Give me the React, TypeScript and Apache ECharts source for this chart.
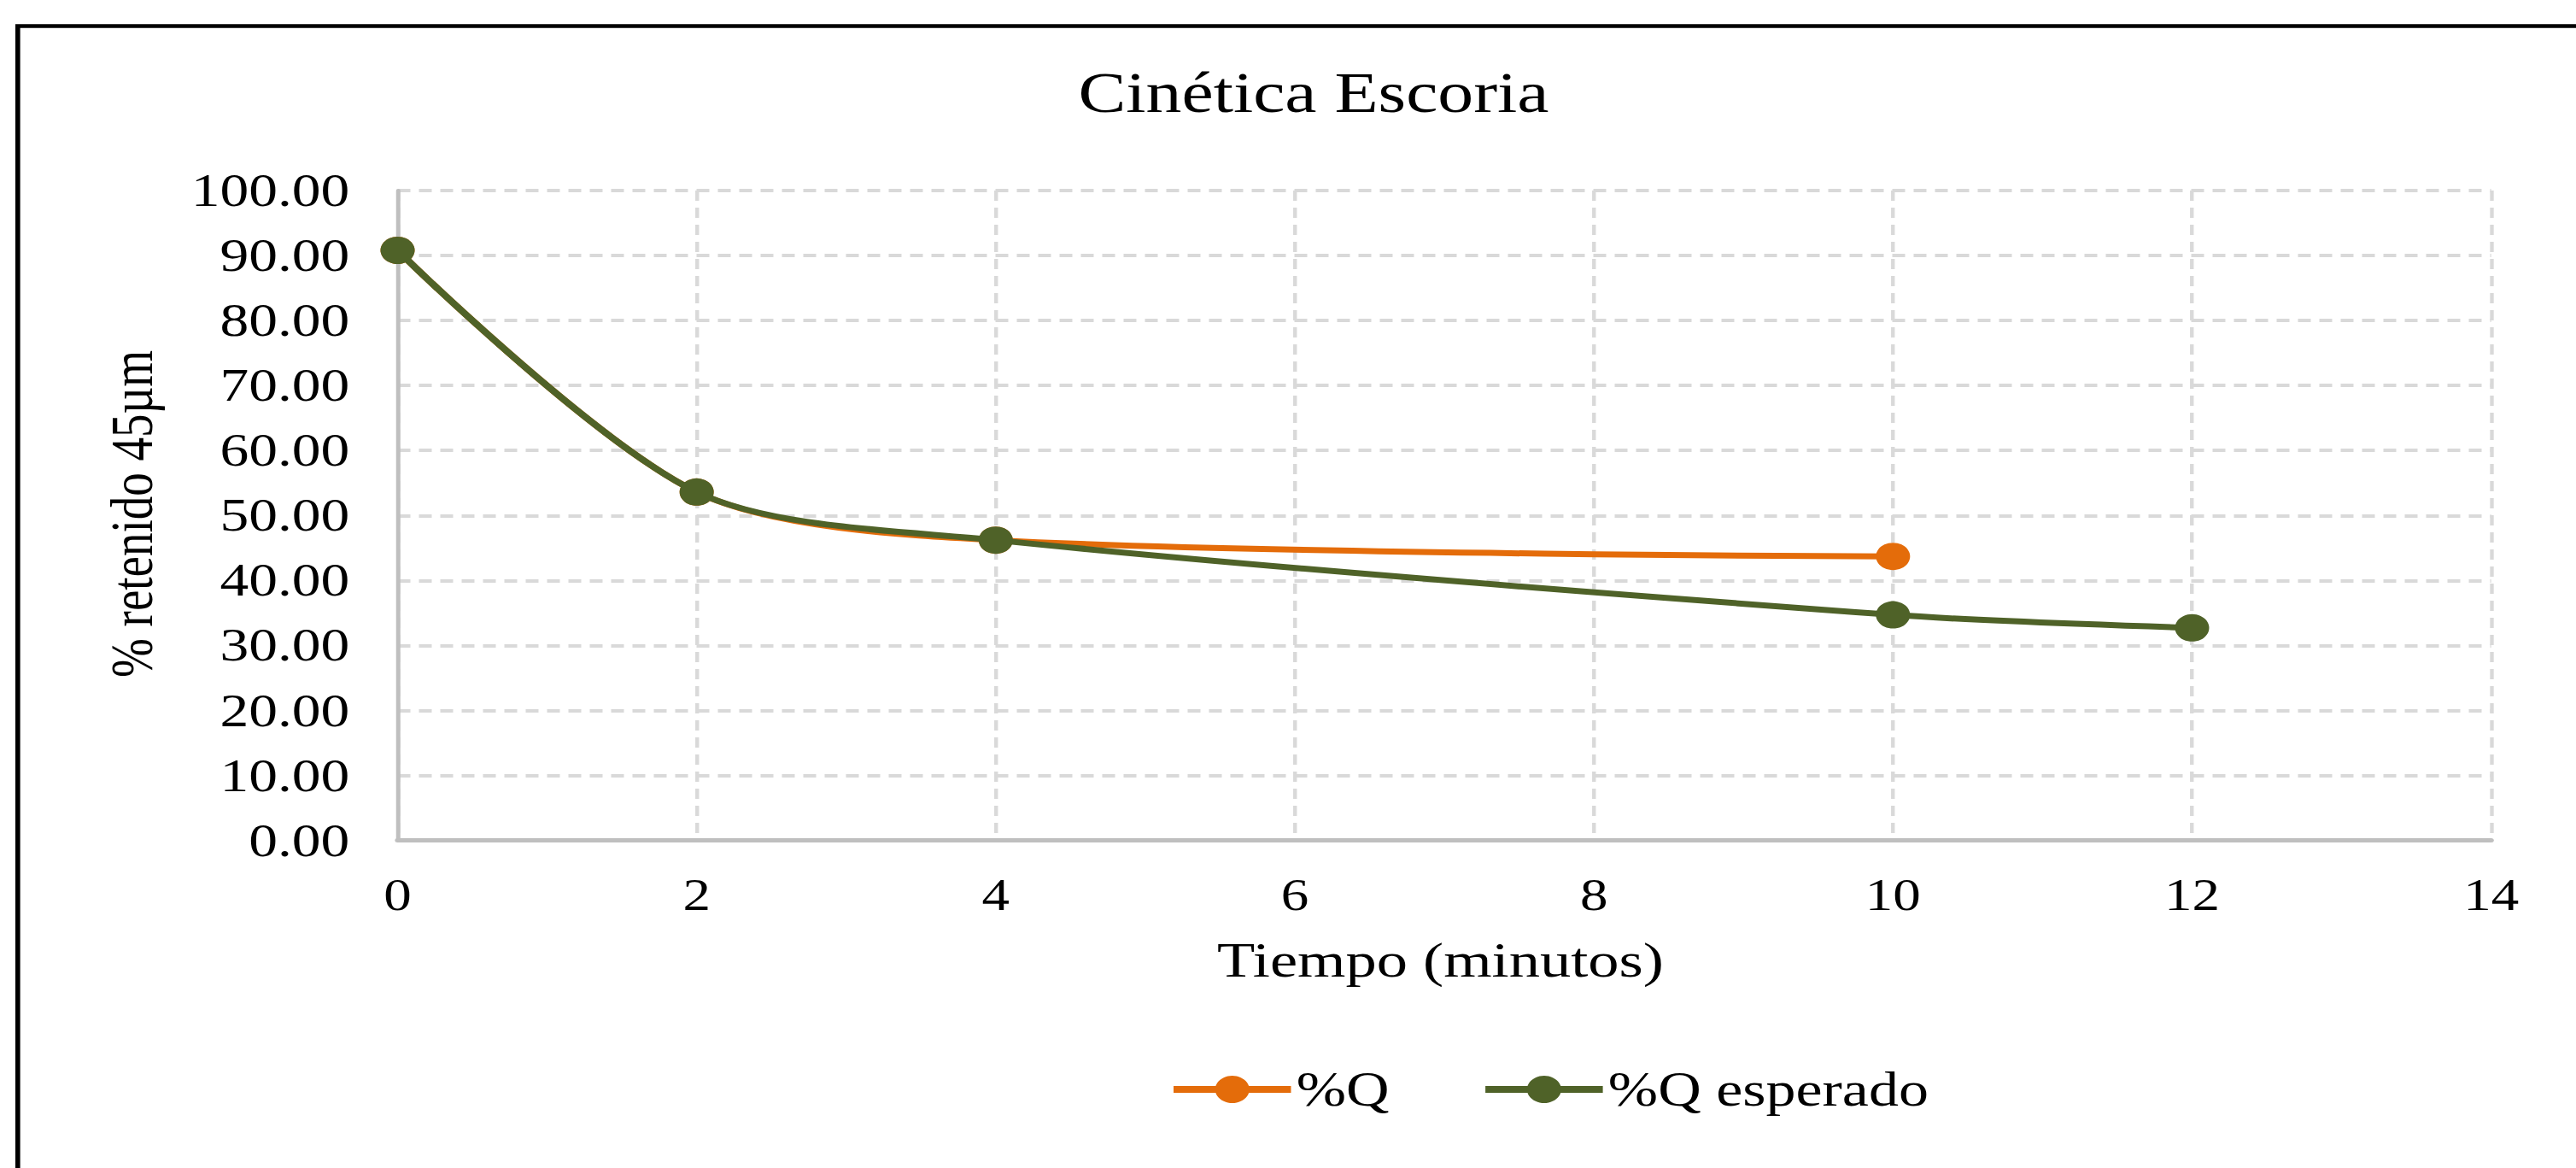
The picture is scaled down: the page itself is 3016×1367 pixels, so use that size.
import React, { useEffect, useRef } from "react";
import * as echarts from "echarts";

// ---- data ----
const xTicks = [0, 2, 4, 6, 8, 10, 12, 14];
const yTicks = [0, 10, 20, 30, 40, 50, 60, 70, 80, 90, 100];
const seriesNames = ["%Q", "%Q esperado"];
const timeQ = [0, 2, 4, 10];
const valuesQ = [90.8, 53.6, 46.2, 43.7];
const timeEsperado = [0, 2, 4, 10, 12];
const valuesEsperado = [90.8, 53.6, 46.2, 34.7, 32.7];
const titleText = "Cinética Escoria";
const xTitle = "Tiempo (minutos)";
const yTitle = "% retenido 45µm";

// ---- layout ----
const SX = 1.25; // the reference picture is stretched horizontally
const W = 3016 / SX;
const H = 1367;
const FONT = '"Liberation Serif", "Times New Roman", serif';
const ORANGE = "#E46C0A";
const GREEN = "#4F6228";

export default function App() {
  const ref = useRef<HTMLDivElement | null>(null);

  useEffect(() => {
    if (!ref.current) return;
    const chart = echarts.init(ref.current, null, { renderer: "svg" });
    const plotLeft = 465.5 / SX;
    const plotRight = 2916.4 / SX;
    const option: any = {
      animation: false,
      backgroundColor: "#ffffff",
      grid: {
        left: plotLeft,
        right: W - plotRight,
        top: 223,
        bottom: H - 983.5,
        containLabel: false,
      },
      xAxis: {
        type: "value",
        min: xTicks[0],
        max: xTicks[xTicks.length - 1],
        interval: xTicks[1] - xTicks[0],
        axisLine: { show: true, onZero: false, lineStyle: { color: "#BFBFBF", width: 5 } },
        axisTick: { show: false },
        axisLabel: { margin: 38, fontSize: 52, fontFamily: FONT, color: "#000" },
        splitLine: { show: true, lineStyle: { color: "#D9D9D9", width: 3.5, type: [12, 8] } },
      },
      yAxis: {
        type: "value",
        min: yTicks[0],
        max: yTicks[yTicks.length - 1],
        interval: yTicks[1] - yTicks[0],
        axisLine: { show: true, onZero: false, lineStyle: { color: "#BFBFBF", width: 4 } },
        axisTick: { show: false },
        axisLabel: {
          margin: 45,
          fontSize: 54,
          fontFamily: FONT,
          color: "#000",
          formatter: (v: number) => v.toFixed(2),
        },
        splitLine: { show: true, lineStyle: { color: "#D9D9D9", width: 4, type: [12, 8] } },
      },
      legend: {
        data: seriesNames,
        left: 1369 / SX,
        top: 1247,
        padding: 0,
        itemWidth: 110,
        itemHeight: 40,
        itemGap: 86,
        textStyle: { fontSize: 56, fontFamily: FONT, color: "#000" },
        lineStyle: { width: 8 },
      },
      graphic: [
        {
          type: "rect",
          shape: { x: 20.8 / SX, y: 30.5, width: 4000, height: 3000 },
          style: { fill: "none", stroke: "#000", lineWidth: 4.5 },
          silent: true,
        },
        {
          type: "text",
          x: 1538 / SX,
          y: 108.4,
          style: {
            text: titleText,
            font: `67px ${FONT}`,
            fill: "#000",
            align: "center",
            verticalAlign: "middle",
            textAlign: "center",
            textVerticalAlign: "middle",
          },
        },
        {
          type: "text",
          x: 1686.5 / SX,
          y: 1123.4,
          style: {
            text: xTitle,
            font: `58px ${FONT}`,
            fill: "#000",
            align: "center",
            verticalAlign: "middle",
            textAlign: "center",
            textVerticalAlign: "middle",
          },
        },
        {
          type: "text",
          x: 155.1 / SX,
          y: 601.5,
          rotation: Math.PI / 2,
          style: {
            text: yTitle,
            font: `55px ${FONT}`,
            fill: "#000",
            align: "center",
            verticalAlign: "middle",
            textAlign: "center",
            textVerticalAlign: "middle",
          },
        },
      ],
      series: [
        {
          name: seriesNames[0],
          type: "line",
          data: timeQ.map((t, i) => [t, valuesQ[i]]),
          smooth: 0.3,
          symbol: "circle",
          symbolSize: 32,
          lineStyle: { color: ORANGE, width: 7 },
          itemStyle: { color: ORANGE },
          z: 2,
        },
        {
          name: seriesNames[1],
          type: "line",
          data: timeEsperado.map((t, i) => [t, valuesEsperado[i]]),
          smooth: 0.3,
          symbol: "circle",
          symbolSize: 32,
          lineStyle: { color: GREEN, width: 7 },
          itemStyle: { color: GREEN },
          z: 3,
        },
      ],
    };
    chart.setOption(option);
    return () => {
      chart.dispose();
    };
  }, []);

  return (
    <div
      style={{
        position: "fixed",
        left: 0,
        top: 0,
        width: 3016,
        height: 1367,
        overflow: "hidden",
        background: "#fff",
      }}
    >
      <div
        ref={ref}
        style={{
          width: W,
          height: H,
          transform: `scaleX(${SX})`,
          transformOrigin: "0 0",
        }}
      />
    </div>
  );
}
